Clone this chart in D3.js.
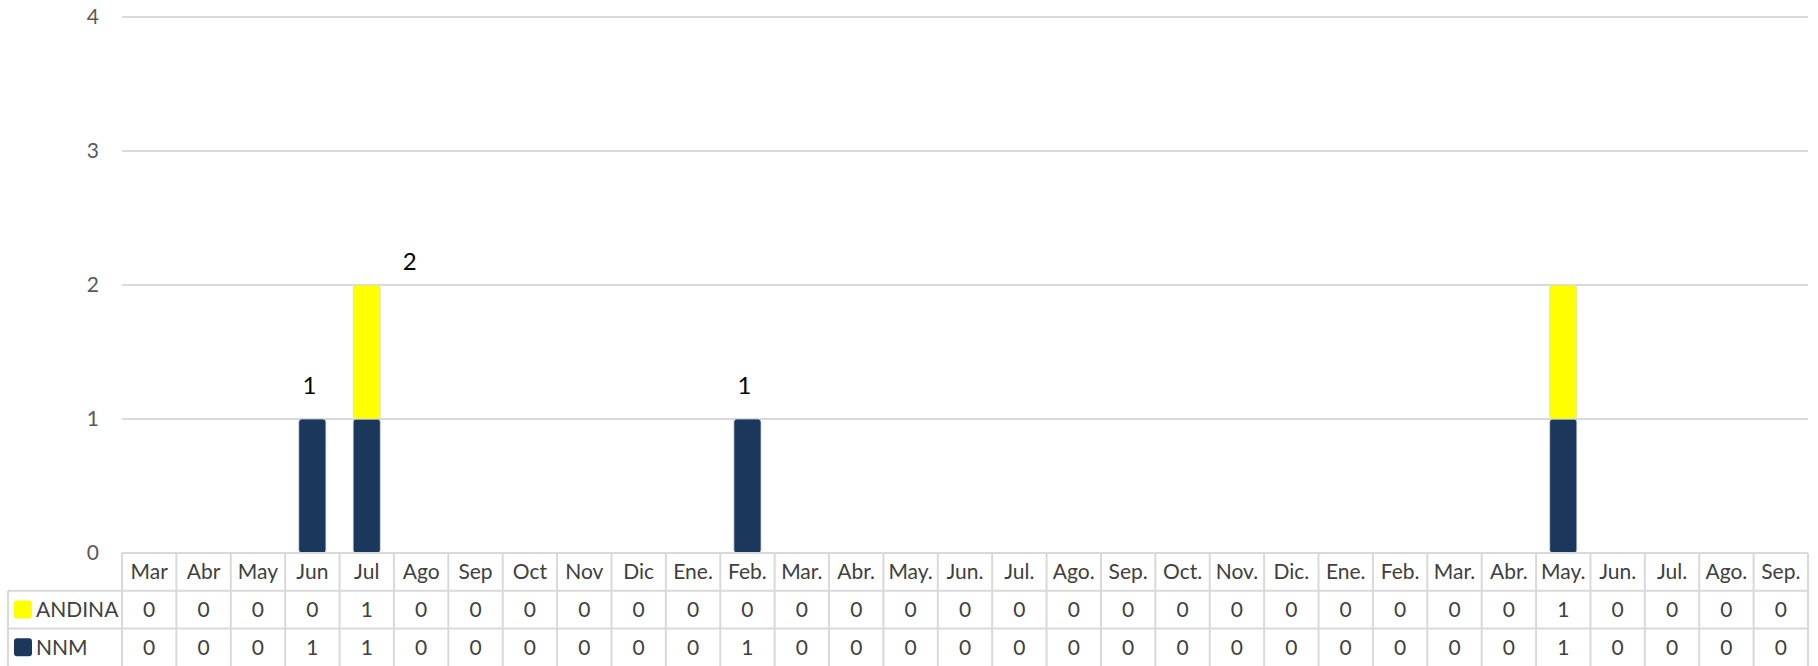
<!DOCTYPE html>
<html>
<head>
<meta charset="utf-8">
<script src="https://cdn.jsdelivr.net/npm/d3@7"></script>
<style>
  body { margin: 0; background: #fff; }
  svg { display: block; font-family: Lato, "Open Sans", sans-serif; }
</style>
</head>
<body>
<svg id="chart" width="1818" height="666"></svg>
<script>
// months shown in the data table (two years, some labels repeat)
var months = ["Mar","Abr","May","Jun","Jul","Ago","Sep","Oct","Nov","Dic","Ene.","Feb.",
  "Mar.","Abr.","May.","Jun.","Jul.","Ago.","Sep.","Oct.","Nov.","Dic.","Ene.","Feb.",
  "Mar.","Abr.","May.","Jun.","Jul.","Ago.","Sep."];
var andina = [0,0,0,0,1,0,0,0,0,0,0,0,0,0,0,0,0,0,0,0,0,0,0,0,0,0,1,0,0,0,0];
var nnm    = [0,0,0,1,1,0,0,0,0,0,0,1,0,0,0,0,0,0,0,0,0,0,0,0,0,0,1,0,0,0,0];
var seriesNames = ["NNM", "ANDINA"];
var colors = {NNM: "#1b375c", ANDINA: "#ffff00"};
var yTicks = [0, 1, 2, 3, 4];
var labelled = [3, 4, 11];  // columns with a total label

var svg = d3.select("#chart");
var plotLeft = 122, plotRight = 1808, plotTop = 17, base = 553;
var rowH = 37.7;

var idx = d3.range(months.length);
var x = d3.scaleBand().domain(idx).range([plotLeft, plotRight]).paddingInner(0.5).paddingOuter(0.25);
var col = d3.scaleBand().domain(idx).range([plotLeft, plotRight]).padding(0);
var y = d3.scaleLinear().domain([0, 4]).range([base, plotTop]);

// grid lines
svg.append("g").selectAll("line").data(yTicks.filter(function(d) { return d > 0; }))
  .join("line")
  .attr("x1", plotLeft).attr("x2", plotRight)
  .attr("y1", function(d) { return y(d); }).attr("y2", function(d) { return y(d); })
  .attr("stroke", "#d9d9d9").attr("stroke-width", 2);

// y axis labels
svg.append("g").selectAll("text").data(yTicks).join("text")
  .attr("x", 99).attr("y", function(d) { return y(d); })
  .attr("dy", "0.35em").attr("text-anchor", "end")
  .attr("font-size", 21).attr("fill", "#595959")
  .text(function(d) { return d; });

// stacked bars
var rows = idx.map(function(i) { return {i: i, NNM: nnm[i], ANDINA: andina[i]}; });
var stacked = d3.stack().keys(seriesNames)(rows);
svg.append("g").selectAll("g").data(stacked).join("g")
  .attr("fill", function(s) { return colors[s.key]; })
  .selectAll("rect").data(function(s) { return s; }).join("rect")
  .attr("x", function(d) { return x(d.data.i); })
  .attr("width", x.bandwidth())
  .attr("y", function(d) { return y(d[1]); })
  .attr("height", function(d) { return Math.max(0, y(d[0]) - y(d[1])); })
  .attr("rx", 3)
  .attr("stroke", "#d6dde6").attr("stroke-width", 0.8)
  .style("display", function(d) { return d[1] - d[0] > 0 ? null : "none"; });

// total labels
var nudge = {4: [46, 10]};
svg.append("g").selectAll("text").data(labelled).join("text")
  .attr("x", function(i) { return x(i) + x.bandwidth() / 2 - 3 + (nudge[i] ? nudge[i][0] : 0); })
  .attr("y", function(i) { return y(nnm[i] + andina[i]) - 25 + (nudge[i] ? nudge[i][1] : 0); })
  .attr("text-anchor", "middle").attr("font-size", 24).attr("fill", "#000")
  .text(function(i) { return nnm[i] + andina[i]; });

// data table
var table = svg.append("g").attr("fill", "none").attr("stroke", "#d9d9d9").attr("stroke-width", 2);
var tableBottom = base + 3 * rowH;
table.append("line").attr("x1", plotLeft).attr("x2", plotRight).attr("y1", base).attr("y2", base);
[1, 2].forEach(function(r) {
  table.append("line").attr("x1", 8).attr("x2", plotRight)
    .attr("y1", base + r * rowH).attr("y2", base + r * rowH);
});
table.append("line").attr("x1", 8).attr("x2", 8).attr("y1", base + rowH).attr("y2", tableBottom);
table.selectAll("line.v").data(idx.concat([months.length])).join("line").attr("class", "v")
  .attr("x1", function(i) { return i < months.length ? col(i) : plotRight; })
  .attr("x2", function(i) { return i < months.length ? col(i) : plotRight; })
  .attr("y1", base).attr("y2", tableBottom);

var cellText = svg.append("g").attr("font-size", 21).attr("fill", "#404040").attr("text-anchor", "middle");
cellText.selectAll("text.m").data(months).join("text").attr("class", "m")
  .attr("x", function(d, i) { return col(i) + col.bandwidth() / 2; })
  .attr("y", base + rowH / 2).attr("dy", "0.36em")
  .text(function(d) { return d; });
[["ANDINA", andina], ["NNM", nnm]].forEach(function(s, r) {
  var cy = base + (r + 1.5) * rowH;
  cellText.selectAll("text.r" + r).data(s[1]).join("text").attr("class", "r" + r)
    .attr("x", function(d, i) { return col(i) + col.bandwidth() / 2; })
    .attr("y", cy).attr("dy", "0.36em")
    .text(function(d) { return d; });
  svg.append("rect").attr("x", 14).attr("y", cy - 9).attr("width", 18).attr("height", 18)
    .attr("rx", 3).attr("fill", colors[s[0]]);
  svg.append("text").attr("x", 36).attr("y", cy).attr("dy", "0.36em")
    .attr("font-size", 21).attr("fill", "#404040").text(s[0]);
});
</script>
</body>
</html>
